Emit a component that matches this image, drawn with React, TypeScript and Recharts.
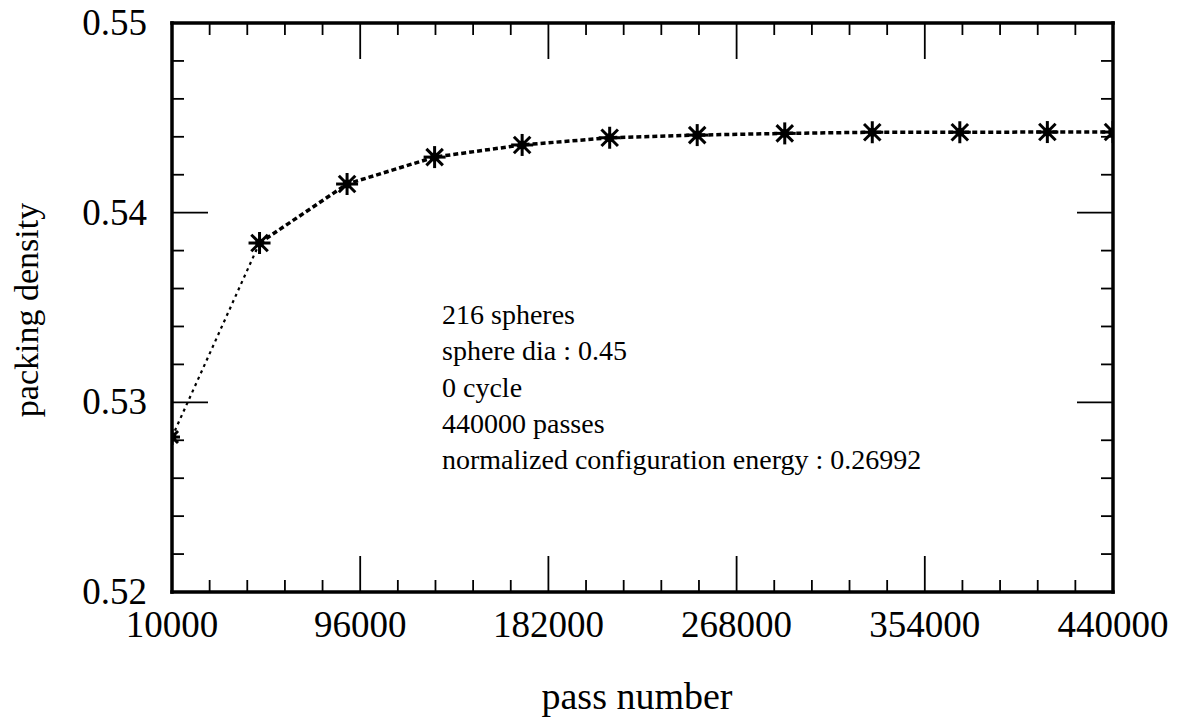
import React from 'react';
import { LineChart, Line, XAxis, YAxis } from 'recharts';

// pass number vs packing density
const passes = [10000, 50000, 90000, 130000, 170000, 210000, 250000, 290000, 330000, 370000, 410000, 440000];
const density = [0.52817, 0.5384, 0.54151, 0.54293, 0.54357, 0.54395, 0.54409, 0.54418, 0.54424, 0.54424, 0.54425, 0.54425];

const xMajor = [10000, 96000, 182000, 268000, 354000, 440000];
const yMajor = [0.52, 0.53, 0.54, 0.55];

const notes = [
    '216 spheres',
    'sphere dia : 0.45',
    '0 cycle',
    '440000 passes',
    'normalized configuration energy : 0.26992',
];

const FONT = "'Liberation Serif', 'Times New Roman', Times, serif";
const MINOR_PER_MAJOR = 5;

// major ticks plus 4 minor ticks in each gap
const withMinor = (major: number[]) => {
    const out: number[] = [];
    for (let i = 0; i < major.length - 1; i++) {
        const step = (major[i + 1] - major[i]) / MINOR_PER_MAJOR;
        for (let k = 0; k < MINOR_PER_MAJOR; k++) out.push(major[i] + step * k);
    }
    out.push(major[major.length - 1]);
    return out;
};

const xTicks = withMinor(xMajor);
const yTicks = withMinor(yMajor);

const isMajor = (list: number[], v: number) => list.some(m => Math.abs(m - v) < 1e-9);

const data = passes.map((p, i) => ({
    pass: p,
    early: i <= 1 ? density[i] : null,
    rest: i >= 1 ? density[i] : null,
}));

const MAJOR_LEN = 36;
const MINOR_LEN = 12;
const TICK_W = 1.8;

const txt = (size: number) => ({ fontFamily: FONT, fontSize: size, fill: '#000' });

const BottomTick = (props: any) => {
    const { x, y, payload } = props;
    const major = isMajor(xMajor, payload.value);
    return (
        <g>
            <line x1={x} x2={x} y1={y} y2={y - (major ? MAJOR_LEN : MINOR_LEN)} stroke="#000" strokeWidth={TICK_W} />
            {major && (
                <text x={x} y={y + 45} textAnchor="middle" style={txt(37)}>
                    {payload.value}
                </text>
            )}
        </g>
    );
};

const TopTick = (props: any) => {
    const { x, y, payload } = props;
    const major = isMajor(xMajor, payload.value);
    return <line x1={x} x2={x} y1={y} y2={y + (major ? MAJOR_LEN : MINOR_LEN)} stroke="#000" strokeWidth={TICK_W} />;
};

const LeftTick = (props: any) => {
    const { x, y, payload } = props;
    const major = isMajor(yMajor, payload.value);
    return (
        <g>
            <line x1={x} x2={x + (major ? MAJOR_LEN : MINOR_LEN)} y1={y} y2={y} stroke="#000" strokeWidth={TICK_W} />
            {major && (
                <text x={x - 25} y={y + 12} textAnchor="end" style={txt(37)}>
                    {payload.value.toFixed(2)}
                </text>
            )}
        </g>
    );
};

const RightTick = (props: any) => {
    const { x, y, payload } = props;
    const major = isMajor(yMajor, payload.value);
    return <line x1={x} x2={x - (major ? MAJOR_LEN : MINOR_LEN)} y1={y} y2={y} stroke="#000" strokeWidth={TICK_W} />;
};

// asterisk marker: horizontal, vertical and both diagonals
const Star = ({ cx, cy, r = 11 }: { cx: number; cy: number; r?: number }) => {
    const d = r * 0.75;
    return (
        <g stroke="#000" strokeWidth={3}>
            <line x1={cx - r} y1={cy} x2={cx + r} y2={cy} />
            <line x1={cx} y1={cy - r} x2={cx} y2={cy + r} />
            <line x1={cx - d} y1={cy - d} x2={cx + d} y2={cy + d} />
            <line x1={cx - d} y1={cy + d} x2={cx + d} y2={cy - d} />
            <circle cx={cx} cy={cy} r={4.5} fill="#000" stroke="none" />
        </g>
    );
};

const restDot = (props: any) => {
    const { cx, cy, index } = props;
    if (cx == null || cy == null || props.value == null) return <g key={index} />;
    return <Star key={index} cx={cx} cy={cy} />;
};

const earlyDot = (props: any) => {
    const { cx, cy, index } = props;
    if (index !== 0 || cx == null || cy == null) return <g key={index} />;
    return <Star key={index} cx={cx} cy={cy} r={8} />;
};

const axisLine = { stroke: '#000', strokeWidth: 3.5, strokeLinecap: 'square' as const };

const PackingDensityChart = () => {
    return (
        <div style={{ position: 'absolute', left: 0, top: 0, width: 1188, height: 723, background: '#fff' }}>
            <LineChart width={1188} height={723} data={data} margin={{ top: 22, right: 74, bottom: 0, left: 0 }}>
                <XAxis
                    dataKey="pass"
                    type="number"
                    domain={[10000, 440000]}
                    allowDataOverflow
                    ticks={xTicks}
                    interval={0}
                    height={131}
                    tickSize={0}
                    tickMargin={0}
                    tickLine={false}
                    axisLine={axisLine}
                    tick={BottomTick}
                    label={{
                        content: () => (
                            <text x={637} y={709} textAnchor="middle" style={txt(38)}>
                                pass number
                            </text>
                        ),
                    }}
                />
                <XAxis
                    xAxisId="top"
                    orientation="top"
                    dataKey="pass"
                    type="number"
                    domain={[10000, 440000]}
                    allowDataOverflow
                    ticks={xTicks}
                    interval={0}
                    height={1}
                    tickSize={0}
                    tickMargin={0}
                    tickLine={false}
                    axisLine={axisLine}
                    tick={TopTick}
                />
                <YAxis
                    type="number"
                    domain={[0.52, 0.55]}
                    allowDataOverflow
                    ticks={yTicks}
                    interval={0}
                    width={172}
                    tickSize={0}
                    tickMargin={0}
                    tickLine={false}
                    axisLine={axisLine}
                    tick={LeftTick}
                    label={{
                        content: () => (
                            <text
                                x={0}
                                y={0}
                                transform="translate(38 310) rotate(-90)"
                                textAnchor="middle"
                                style={txt(34)}
                            >
                                packing density
                            </text>
                        ),
                    }}
                />
                <YAxis
                    yAxisId="right"
                    orientation="right"
                    type="number"
                    domain={[0.52, 0.55]}
                    allowDataOverflow
                    ticks={yTicks}
                    interval={0}
                    width={1}
                    tickSize={0}
                    tickMargin={0}
                    tickLine={false}
                    axisLine={axisLine}
                    tick={RightTick}
                />
                <Line
                    dataKey="early"
                    type="linear"
                    stroke="#000"
                    strokeWidth={2.2}
                    strokeDasharray="3 4"
                    dot={earlyDot}
                    activeDot={false}
                    isAnimationActive={false}
                />
                <Line
                    dataKey="rest"
                    type="linear"
                    stroke="#000"
                    strokeWidth={3.5}
                    strokeDasharray="5 3"
                    dot={restDot}
                    activeDot={false}
                    isAnimationActive={false}
                />
                <g>
                    {notes.map((t, i) => (
                        <text key={t} x={442} y={324 + i * 36.25} style={txt(28)}>
                            {t}
                        </text>
                    ))}
                </g>
            </LineChart>
        </div>
    );
};

export default function App() {
    return <PackingDensityChart />;
}
